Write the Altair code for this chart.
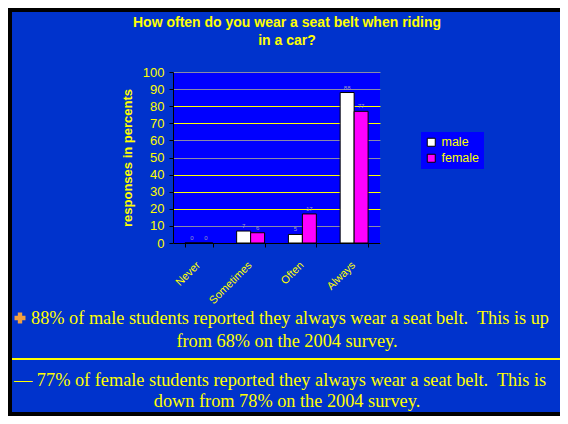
import altair as alt
import pandas as pd

categories = ["Never", "Sometimes", "Often", "Always"]
series = ["male", "female"]
male = [0, 7, 5, 88]
female = [0, 6, 17, 77]
y_ticks = [0, 10, 20, 30, 40, 50, 60, 70, 80, 90, 100]
title_lines = ["How often do you wear a seat belt when riding", "in a car?"]
note_male = ["88% of male students reported they always wear a seat belt.\u00a0 This is up",
             "from 68% on the 2004 survey."]
note_female = ["\u2014 77% of female students reported they always wear a seat belt.\u00a0 This is",
               "down from 78% on the 2004 survey."]

rows = []
for c, m, f in zip(categories, male, female):
    rows.append({"category": c, "gender": "male", "value": m})
    rows.append({"category": c, "gender": "female", "value": f})
df = pd.DataFrame(rows)

W, H = 207, 171
TOTAL_W, TOTAL_H = 552, 408
PAD_L, PAD_T = 165, 64

YELLOW = "#ffff00"
SANS = "Liberation Sans"
SERIF = "Liberation Serif"

base = alt.Chart(df)

x = alt.X("category:N", sort=categories,
          scale=alt.Scale(paddingInner=0.46, paddingOuter=0.23),
          axis=alt.Axis(title=None, labelAngle=315, labelAlign="right", labelBaseline="top",
                        labelColor=YELLOW, labelFont=SANS, labelFontSize=11, labelPadding=12,
                        labelOffset=-5,
                        tickBand="extent", tickColor="black", tickSize=4, domainColor="black",
                        grid=False))
xo = alt.XOffset("gender:N", sort=series, scale=alt.Scale(paddingInner=0, paddingOuter=0))
y = alt.Y("value:Q", scale=alt.Scale(domain=[0, 100], nice=False),
          axis=alt.Axis(title="responses in percents", values=y_ticks,
                        titleColor=YELLOW, titleFont=SANS, titleFontSize=13, titleFontWeight="bold",
                        titlePadding=8,
                        labelColor=YELLOW, labelFont=SANS, labelFontSize=13, labelPadding=5,
                        tickColor="black", tickSize=4, domainColor="black",
                        gridColor={"condition": {"test": "indexof([10,50,60,90,100], datum.value) >= 0",
                                                 "value": "#8a8aa8"},
                                   "value": YELLOW},
                        gridWidth=1.2))

bars = base.mark_bar(stroke="black", strokeWidth=1).encode(
    x=x, xOffset=xo, y=y,
    color=alt.Color("gender:N", sort=series,
                    scale=alt.Scale(domain=series, range=["#ffffff", "#ff00ff"]),
                    legend=alt.Legend(title=None, orient="none", legendX=248, legendY=60,
                                      fillColor="#0000ff", padding=4, rowPadding=3,
                                      labelColor=YELLOW, labelFont=SANS, labelFontSize=12.5,
                                      labelOffset=4,
                                      symbolType="square", symbolSize=64,
                                      symbolStrokeColor="black", symbolStrokeWidth=1)),
)

labels = base.mark_text(dy=-5, fontSize=6, font=SANS, color="#9a9ac8").encode(
    x=x, xOffset=xo, y=y, text="value:Q")


def text_layer(t, xpos, ypos, **kw):
    return alt.Chart(pd.DataFrame({"t": [t]})).mark_text(**kw).encode(
        text="t:N", x=alt.value(xpos), y=alt.value(ypos))


layers = [bars, labels]
layers.append(text_layer(title_lines[0], 114, -49, font=SANS, fontSize=14, fontWeight="bold",
                         color=YELLOW, baseline="middle", align="center"))
layers.append(text_layer(title_lines[1], 114, -31, font=SANS, fontSize=14, fontWeight="bold",
                         color=YELLOW, baseline="middle", align="center"))
layers.append(text_layer(note_male[0], -142, 247, font=SERIF, fontSize=18.3, color=YELLOW,
                         baseline="middle", align="left"))
layers.append(text_layer(note_male[1], 114, 270, font=SERIF, fontSize=18.3, color=YELLOW,
                         baseline="middle", align="center"))
layers.append(text_layer(note_female[0], -159, 309, font=SERIF, fontSize=18.3, color=YELLOW,
                         baseline="middle", align="left"))
layers.append(text_layer(note_female[1], 114, 330, font=SERIF, fontSize=18.3, color=YELLOW,
                         baseline="middle", align="center"))

one = pd.DataFrame({"k": [0]})
icon = alt.Chart(one).mark_point(shape="cross", filled=True, size=120, color="#f0a040", opacity=1).encode(
    x=alt.value(-153), y=alt.value(246))
sep = alt.Chart(one).mark_rule(color=YELLOW, strokeWidth=2).encode(
    x=alt.value(-162), x2=alt.value(TOTAL_W - PAD_L), y=alt.value(287))
frame = alt.Chart(one).mark_rect(fill=None, stroke="black", strokeWidth=4).encode(
    x=alt.value(-163), x2=alt.value(TOTAL_W - PAD_L + 20), y=alt.value(-62), y2=alt.value(TOTAL_H - PAD_T - 2))
layers += [icon, sep, frame]

chart = alt.layer(*layers).properties(
    width=W, height=H,
    autosize=alt.AutoSizeParams(type="none"),
    padding={"left": PAD_L, "top": PAD_T, "right": TOTAL_W - PAD_L - W, "bottom": TOTAL_H - PAD_T - H},
    background="#0033cc",
).configure_view(fill="#0000ff", stroke=None)

chart.save("out.html", embed_options={"renderer": "svg", "actions": False})
